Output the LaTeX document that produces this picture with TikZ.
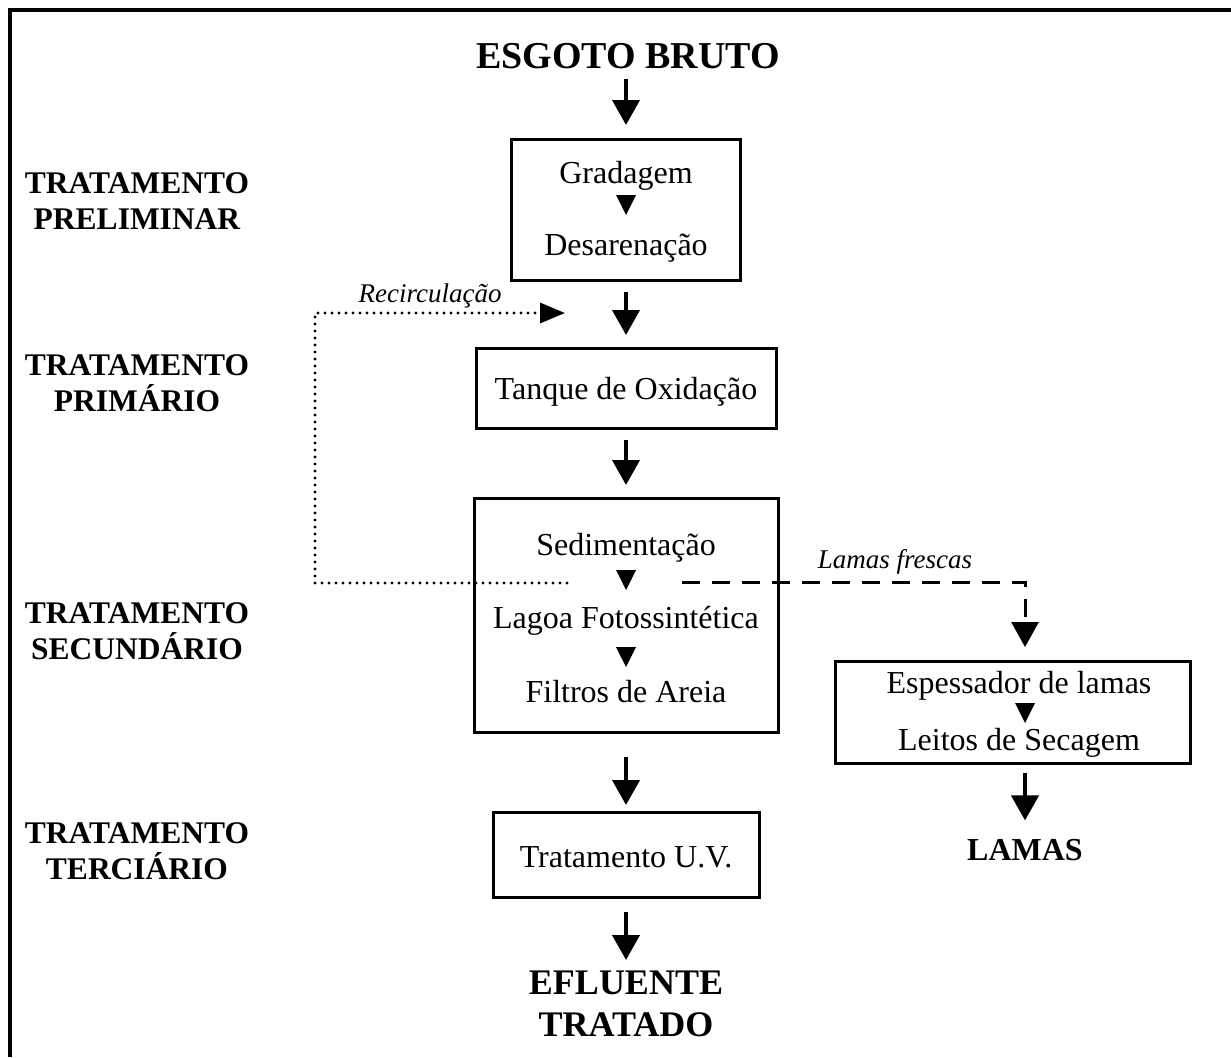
\documentclass[tikz,border=0pt]{standalone}
\usepackage{fontspec}
\setmainfont{Liberation Serif}
\usetikzlibrary{arrows.meta}

\tikzset{
  box/.style={draw,line width=1.5pt,inner sep=0pt},
  inbox/.style={font=\fontsize{16}{19}\selectfont,anchor=base,inner sep=0pt},
  stage/.style={font=\bfseries\fontsize{15.75}{18}\selectfont,align=center,anchor=north,inner sep=0pt},
  endtext/.style={font=\bfseries\fontsize{18}{21}\selectfont,align=center,inner sep=0pt},
  note/.style={font=\itshape\fontsize{13.5}{16}\selectfont,anchor=base,inner sep=0pt},
  flow/.style={line width=2pt,-{Triangle[width=13.5pt,length=12.5pt]}},
  recirc/.style={line width=1.7pt,line cap=round,dash pattern=on 0pt off 3.5pt,
    -{Triangle[width=10pt,length=12.5pt]}},
  sludge/.style={line width=1.5pt,dash pattern=on 9pt off 6pt,
    -{Triangle[width=13.5pt,length=12.5pt]}},
  downmark/.pic={\fill (-10,0) -- (10,0) -- (0,20) -- cycle;}
}

\begin{document}
\begin{tikzpicture}[x=0.5pt,y=-0.5pt]
    \useasboundingbox (0,0) rectangle (1231,1057);

    % Frame
    \draw[line width=2pt] (10,1057) -- (10,10) -- (1231,10);

    % Stages
    \node[stage] (prelimlbl) at (137,172) {TRATAMENTO\\PRELIMINAR};
    \node[stage] (primlbl) at (137,354) {TRATAMENTO\\PRIMÁRIO};
    \node[stage] (seclbl) at (137,602) {TRATAMENTO\\SECUNDÁRIO};
    \node[stage] (terclbl) at (137,822) {TRATAMENTO\\TERCIÁRIO};

    % Boxes
    \node[box,minimum width=114.5pt,minimum height=70.5pt] (prelim) at (626,209.5) {};
    \node[box,minimum width=150pt,minimum height=40pt] (primario) at (626,388) {};
    \node[box,minimum width=152pt,minimum height=117pt] (secund) at (626,615) {};
    \node[box,minimum width=133pt,minimum height=42.5pt] (tercia) at (626,854.5) {};
    \node[box,minimum width=177.5pt,minimum height=51pt] (lodo) at (1013,712) {};

    % Texts
    \node[endtext,anchor=base,font=\bfseries\fontsize{19}{21}\selectfont] (esgoto) at (628,68) {ESGOTO BRUTO};
    \node[endtext,anchor=north] (efluente) at (626,971) {EFLUENTE\\TRATADO};
    \node[endtext,anchor=base,font=\bfseries\fontsize{16}{19}\selectfont] (lamas) at (1025,860) {LAMAS};

    \node[inbox] (grad) at (626,183) {Gradagem};
    \node[inbox] (desar) at (626,255) {Desarenação};
    \node[inbox] (tanque) at (626,399) {Tanque de Oxidação};
    \node[inbox] (sedim) at (626,555) {Sedimentação};
    \node[inbox] (lagoa) at (626,628) {Lagoa Fotossintética};
    \node[inbox] (filtros) at (626,702) {Filtros de Areia};
    \node[inbox] (uv) at (626,867) {Tratamento U.V.};
    \node[inbox] (espess) at (1019,693) {Espessador de lamas};
    \node[inbox] (leitos) at (1019,750) {Leitos de Secagem};

    \pic at (626,195) {downmark};
    \pic at (626,570) {downmark};
    \pic at (626,647) {downmark};
    \pic at (1025,703) {downmark};

    % Main flow
    \draw[flow,shorten <=5pt,shorten >=6.25pt] (esgoto.south -| prelim.north) -- (prelim.north);
    \draw[flow,shorten <=5.25pt,shorten >=5.75pt] (prelim) -- (primario);
    \draw[flow,shorten <=5.25pt,shorten >=5.75pt] (primario) -- (secund);
    \draw[flow,shorten <=11.5pt,shorten >=2.75pt] (secund) -- (tercia);
    \draw[flow,shorten <=6.75pt,shorten >=5.5pt] (tercia) -- (efluente);
    \draw[flow,shorten <=4.25pt,shorten >=9pt] (lodo.south -| lamas.north) -- (lamas.north);

    % Recirculation
    \path (567,583) coordinate (recout)
      (315,313) coordinate (recturn)
      (565,313) coordinate (recin);
    \draw[recirc] (recout) -| (recturn) -- (recin);
    \node[note] (reclbl) at (430,302) {Recirculação};

    % Sludge
    \coordinate (fresh) at (682,582);
    \draw[sludge,shorten >=6.25pt] (fresh) -| (lodo.north -| lamas.north);
    \node[note] (freshlbl) at (895,568) {Lamas frescas};

\end{tikzpicture}
\end{document}
